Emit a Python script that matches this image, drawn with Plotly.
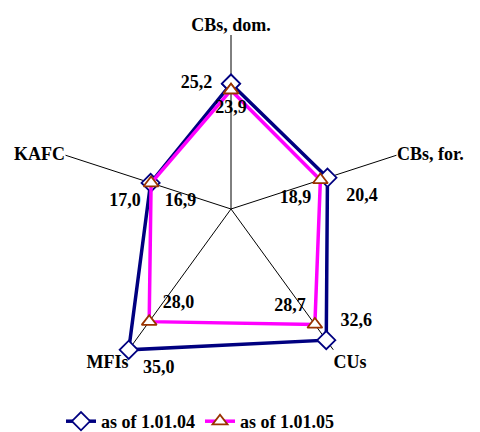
import plotly.graph_objects as go

categories = ["CBs, dom.", "CBs, for.", "CUs", "MFIs", "KAFC"]
values_04 = [25.2, 20.4, 32.6, 35.0, 17.0]
values_05 = [23.9, 18.9, 28.7, 28.0, 16.9]
series_names = ["as of 1.01.04", "as of 1.01.05"]

pos_04 = ["middle left", "bottom right", "top right", "bottom right", "bottom left"]
pos_05 = ["bottom center", "bottom left", "top left", "top right", "bottom right"]
# extra padding (non-breaking spaces) pushing labels away from the markers
pad_04 = [(0, 2), (2, 0), (1, 0), (1, 0), (0, 0)]
pad_05 = [(0, 0), (0, 0), (0, 0), (1, 0), (1, 0)]

FONT = "Liberation Serif"
NB = "\u00a0"


def _labels(values, pads):
    out = []
    for v, (lead, trail) in zip(values, pads):
        out.append(NB * lead + f"{v:.1f}".replace(".", ",") + NB * trail)
    return out + [""]


def _closed(seq):
    return list(seq) + [seq[0]]


fig = go.Figure()

fig.add_trace(go.Scatterpolar(
    r=_closed(values_04),
    theta=_closed(categories),
    name=series_names[0],
    mode="lines+markers+text",
    text=_labels(values_04, pad_04),
    textposition=pos_04 + ["middle center"],
    textfont=dict(family=FONT, size=18, color="black", weight="bold"),
    line=dict(color="#000080", width=3.5),
    marker=dict(symbol="diamond", size=14, color="white",
                line=dict(color="#000080", width=1.8)),
    cliponaxis=False,
))

fig.add_trace(go.Scatterpolar(
    r=_closed(values_05),
    theta=_closed(categories),
    name=series_names[1],
    mode="lines+markers+text",
    text=_labels(values_05, pad_05),
    textposition=pos_05 + ["middle center"],
    textfont=dict(family=FONT, size=18, color="black", weight="bold"),
    line=dict(color="#FF00FF", width=3.5),
    marker=dict(symbol="triangle-up", size=13, color="white",
                line=dict(color="#993300", width=1.8)),
    cliponaxis=False,
))

fig.update_layout(
    width=480,
    height=432,
    margin=dict(l=0, r=0, t=0, b=0),
    paper_bgcolor="white",
    font=dict(family=FONT, size=18, color="black"),
    polar=dict(
        domain=dict(x=[0.1021, 0.8271], y=[0.1319, 0.9375]),
        bgcolor="white",
        radialaxis=dict(range=[0, 35], visible=False, showgrid=False),
        angularaxis=dict(
            direction="clockwise",
            rotation=90,
            showline=False,
            showgrid=True,
            gridcolor="black",
            gridwidth=1,
            ticks="",
            tickfont=dict(family=FONT, size=18, color="black", weight="bold"),
        ),
    ),
    legend=dict(
        orientation="h",
        x=0.40,
        xanchor="center",
        y=0.0,
        yanchor="bottom",
        font=dict(family=FONT, size=18, color="black", weight="bold"),
    ),
    showlegend=True,
)

fig.write_html("out.html")
